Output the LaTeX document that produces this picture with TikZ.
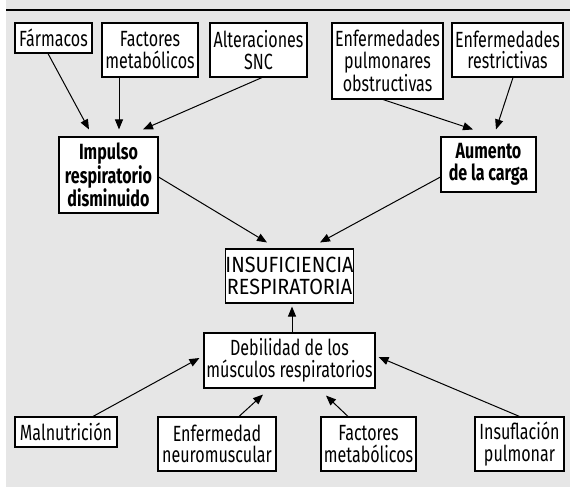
\documentclass[tikz,border=0pt]{standalone}
\usepackage{fontspec}
\setmainfont[FakeStretch=0.73]{Fira Sans}
\newfontfamily\widefira[FakeStretch=0.9]{Fira Sans}
\usetikzlibrary{arrows.meta}
\definecolor{bg}{HTML}{E6E6E6}
\begin{document}
\begin{tikzpicture}[x=1pt,y=-1pt,
  box/.style={draw=black,line width=1.1pt,fill=white,inner sep=0pt,align=center,
    font=\fontsize{22}{21.5}\selectfont},
  bbox/.style={box,font=\fontsize{22}{21.5}\selectfont\bfseries},
  capbox/.style={box,font=\widefira\fontsize{22}{21.5}\selectfont},
  arr/.style={line width=1pt,-{Triangle[length=10pt,width=8pt]}}]
\useasboundingbox (0,0) rectangle (570,489);
\fill[bg] (6,0) rectangle (570,487);
\draw[line width=2.2pt] (6,10) -- (570,10);
% top row
\node[box,minimum width=77pt,minimum height=30pt] (farm) at (53.5,38) {Fármacos};
\node[box,minimum width=96pt,minimum height=54pt] (fm1) at (150,50) {Factores\\metabólicos};
\node[box,minimum width=97pt,minimum height=54pt] (snc) at (258.5,50) {Alteraciones\\SNC};
\node[box,minimum width=111pt,minimum height=76pt] (obs) at (387.5,61) {Enfermedades\\pulmonares\\obstructivas};
\node[box,minimum width=111pt,minimum height=54pt] (res) at (507.5,50) {Enfermedades\\restrictivas};
% middle
\node[bbox,minimum width=99pt,minimum height=76pt] (imp) at (108.5,175) {Impulso\\respiratorio\\disminuido};
\node[bbox,minimum width=95pt,minimum height=55pt] (aum) at (488.5,164.5) {Aumento\\de la carga};
\node[capbox,minimum width=125pt,minimum height=54pt] (ins) at (289.5,276) {INSUFICIENCIA\\RESPIRATORIA};
\node[box,minimum width=171pt,minimum height=55pt] (deb) at (289.5,360.5) {Debilidad de los\\músculos respiratorios};
% bottom row
\node[box,minimum width=102pt,minimum height=30pt] (mal) at (66,432) {Malnutrición};
\node[box,minimum width=118pt,minimum height=54pt] (neu) at (217,444) {Enfermedad\\neuromuscular};
\node[box,minimum width=95pt,minimum height=54pt] (fm2) at (368.5,444) {Factores\\metabólicos};
\node[box,minimum width=89pt,minimum height=54pt] (insu) at (519.5,444) {Insuflación\\pulmonar};
% arrows
\draw[arr] ([xshift=-5.5pt]farm.south) -- ([xshift=-19.5pt,yshift=7pt]imp.north);
\draw[arr] ([xshift=-31pt]fm1.south) -- ([xshift=10.5pt,yshift=7pt]imp.north);
\draw[arr] ([xshift=3.5pt]snc.south) -- ([xshift=34.5pt,yshift=7pt]imp.north);
\draw[arr] ([xshift=-4.5pt]obs.south) -- ([xshift=-15.5pt,yshift=7pt]aum.north);
\draw[arr] ([xshift=5.5pt]res.south) -- ([xshift=7.5pt,yshift=7pt]aum.north);
\draw[arr] ([yshift=-2pt]imp.east) -- ([xshift=-22.5pt,yshift=6pt]ins.north);
\draw[arr] ([yshift=-12.5pt]aum.west) -- ([xshift=30.5pt,yshift=6pt]ins.north);
\draw[arr] ([xshift=2.5pt]deb.north) -- ([xshift=2.5pt,yshift=-3pt]ins.south);
\draw[arr] ([xshift=27pt]mal.north) -- ([xshift=-4pt,yshift=2.5pt]deb.west);
\draw[arr] ([xshift=22pt]neu.north) -- ([xshift=-26.5pt,yshift=-6pt]deb.south);
\draw[arr] ([xshift=-20.5pt]fm2.north) -- ([xshift=36.5pt,yshift=-7pt]deb.south);
\draw[arr] (insu.north) -- ([xshift=3pt,yshift=3.5pt]deb.east);
\end{tikzpicture}
\end{document}
